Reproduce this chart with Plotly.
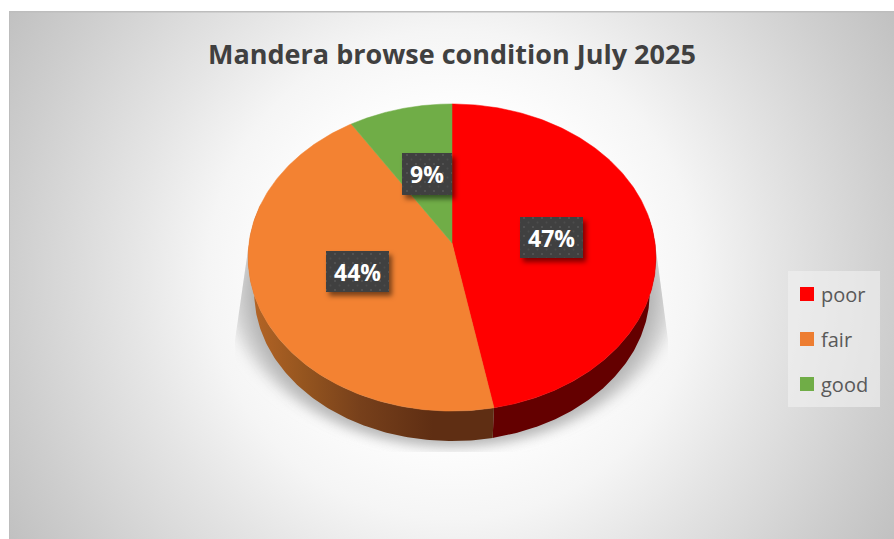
import base64
import numpy as np
import plotly.graph_objects as go

# Browse condition shares, in percent
categories = ["poor", "fair", "good"]
values = [47, 44, 9]
title_text = "Mandera browse condition July 2025"

W, H = 894, 539
top_colors = ["#FF0000", "#F38232", "#70AD47"]
legend_colors = ["#FF0000", "#ED7D31", "#70AD47"]
FONT = "Open Sans"

# Tilted-disc projection: the near edge of the disc looks larger than the far edge
CX, CY = 452.0, 243.0
A, B, P = 203.0, 152.2, 0.0946
DEPTH_SCALE, DEPTH_CY = 0.97, 278.0


def project(theta_deg, scale=1.0, cy=CY):
    t = np.radians(theta_deg)
    u, v = np.sin(t), np.cos(t)
    d = 1 + P * v
    return CX + scale * A * u / d, cy - scale * B * v / d


def svg_uri(body):
    svg = f'<svg xmlns="http://www.w3.org/2000/svg" width="{W}" height="{H}" viewBox="0 0 {W} {H}">{body}</svg>'
    return "data:image/svg+xml;base64," + base64.b64encode(svg.encode()).decode()


# Backdrop: radial grey panel and the soft ground shadow under the disc
backdrop = f'''
<defs>
<radialGradient id="g" gradientUnits="userSpaceOnUse" cx="452" cy="275" r="520">
<stop offset="0" stop-color="#ffffff"/><stop offset="0.33" stop-color="#fdfdfd"/>
<stop offset="0.47" stop-color="#f5f5f5"/><stop offset="0.62" stop-color="#e5e5e5"/>
<stop offset="0.85" stop-color="#cecece"/><stop offset="1" stop-color="#c0c0c0"/>
</radialGradient>
<filter id="b" x="-20%" y="-20%" width="140%" height="140%"><feGaussianBlur stdDeviation="7"/></filter>
<clipPath id="c"><polygon points="248,250 235,340 235,452 668,452 668,340 656,250"/></clipPath>
</defs>
<rect width="{W}" height="{H}" fill="#ffffff"/>
<rect x="9" y="12" width="{W - 9}" height="{H - 12}" fill="url(#g)"/>
<rect x="9" y="11" width="{W - 9}" height="1.5" fill="#bdbdbd"/>
<rect x="9" y="11" width="1" height="{H - 11}" fill="#bdbdbd"/>
<g clip-path="url(#c)">
<ellipse cx="452" cy="294" rx="222" ry="150" fill="#d2d2d2" filter="url(#b)"/>
<ellipse cx="452" cy="292" rx="205" ry="153" fill="#b4b4b4" filter="url(#b)"/>
</g>
'''

# Label plates: dark dotted boxes with a drop shadow
label_boxes = [(520, 217, 63, 41), (326, 251, 63, 41), (402, 153, 50, 42)]
plates = "".join(
    f'<g filter="url(#s)"><rect x="{x}" y="{y}" width="{w}" height="{h}" fill="#404040"/></g>'
    f'<rect x="{x}" y="{y}" width="{w}" height="{h}" fill="url(#d)"/>'
    for x, y, w, h in label_boxes
)
plate_layer = f'''
<defs>
<pattern id="d" width="9" height="9" patternUnits="userSpaceOnUse">
<circle cx="2" cy="2" r="1" fill="#565656"/><circle cx="6.5" cy="6.5" r="1" fill="#4c4c4c"/>
</pattern>
<filter id="s" x="-30%" y="-30%" width="170%" height="170%">
<feDropShadow dx="3" dy="4" stdDeviation="2.5" flood-color="#000000" flood-opacity="0.5"/>
</filter>
</defs>
{plates}
'''

fig = go.Figure()

# Slice angles come straight from the values, clockwise from twelve o'clock
edges = np.concatenate([[0.0], np.cumsum(values) / np.sum(values) * 360.0])

# Rim of the disc, nearest parts only
wall_ranges = [(80.0, edges[1]), (edges[1], 285.0)]
wall_styles = [
    dict(fillcolor="#640000"),
    dict(fillgradient=dict(
        type="horizontal",
        colorscale=[[0, "#B56526"], [0.22, "#95551F"], [0.45, "#77401B"], [0.75, "#5F2E13"], [1, "#5F2E13"]],
        start=250, stop=494,
    )),
]
for (t0, t1), style in zip(wall_ranges, wall_styles):
    th = np.linspace(t0, t1, 160)
    xt, yt = project(th)
    xb, yb = project(th[::-1], DEPTH_SCALE, DEPTH_CY)
    fig.add_trace(go.Scatter(
        x=np.concatenate([xt, xb]), y=np.concatenate([yt, yb]),
        mode="lines", fill="toself", line=dict(width=0), hoverinfo="skip", showlegend=False, **style,
    ))

# Top face of each slice
for name, val, color, t0, t1 in zip(categories, values, top_colors, edges[:-1], edges[1:]):
    th = np.linspace(t0, t1, 240)
    xa, ya = project(th)
    fig.add_trace(go.Scatter(
        x=np.concatenate([[CX], xa, [CX]]), y=np.concatenate([[CY], ya, [CY]]),
        mode="lines", fill="toself", fillcolor=color, line=dict(width=0.5, color=color),
        name=name, text=f"{name}: {val}%", hoveron="fills", hoverinfo="text", showlegend=False,
    ))

annotations = [dict(
    x=452, y=53, text=f"<b>{title_text}</b>", showarrow=False, xanchor="center", yanchor="middle",
    font=dict(family=FONT, size=27, color="#404040"),
)]
for val, (x, y, w, h) in zip(values, label_boxes):
    annotations.append(dict(
        x=x + w / 2, y=y + h / 2, text=f"<b>{val}%</b>", showarrow=False,
        font=dict(family=FONT, size=23, color="#FFFFFF"),
    ))

# Legend panel with square swatches
shapes = [dict(type="rect", x0=788, x1=880, y0=271, y1=407, fillcolor="rgba(242,242,242,0.6)", line=dict(width=0), layer="below")]
for i, (name, color) in enumerate(zip(categories, legend_colors)):
    y = 294 + 45 * i
    shapes.append(dict(type="rect", x0=800, x1=814, y0=y - 7, y1=y + 7, fillcolor=color, line=dict(width=0)))
    annotations.append(dict(
        x=819, y=y, text=name, showarrow=False, xanchor="left", yanchor="middle",
        font=dict(family=FONT, size=20, color="#595959"),
    ))

fig.update_layout(
    width=W, height=H, margin=dict(l=0, r=0, t=0, b=0), autosize=False,
    paper_bgcolor="#ffffff", plot_bgcolor="rgba(0,0,0,0)", showlegend=False,
    xaxis=dict(range=[0, W], visible=False, fixedrange=True),
    yaxis=dict(range=[H, 0], visible=False, fixedrange=True),
    annotations=annotations, shapes=shapes,
    images=[
        dict(source=svg_uri(backdrop), xref="paper", yref="paper", x=0, y=1, sizex=1, sizey=1,
             xanchor="left", yanchor="top", sizing="stretch", layer="below"),
        dict(source=svg_uri(plate_layer), xref="paper", yref="paper", x=0, y=1, sizex=1, sizey=1,
             xanchor="left", yanchor="top", sizing="stretch", layer="above"),
    ],
)

fig.write_html("out.html", config=dict(displayModeBar=False))
